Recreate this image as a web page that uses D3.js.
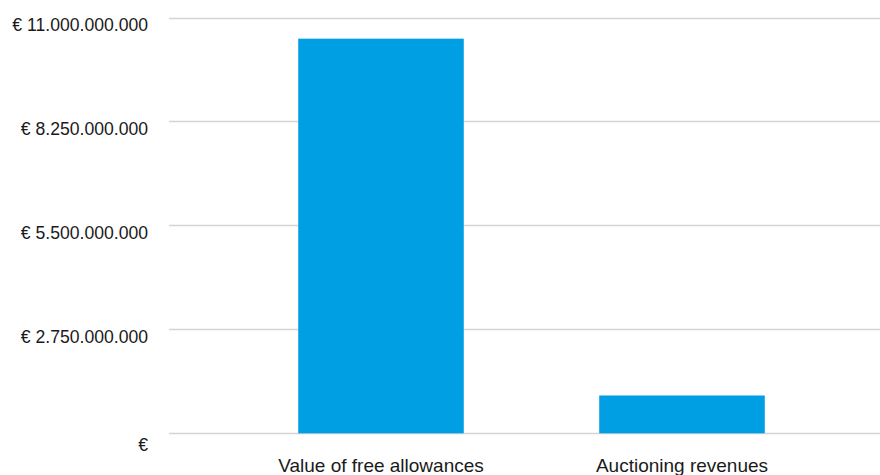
<!DOCTYPE html>
<html>
<head>
<meta charset="utf-8">
<script src="https://cdn.jsdelivr.net/npm/d3@7"></script>
<style>
  html, body { margin: 0; padding: 0; background: #ffffff; }
  svg { display: block; }
  text { font-family: "Liberation Sans", Arial, sans-serif; fill: #1a1a1a; }
</style>
</head>
<body>
<svg id="chart" width="880" height="475"></svg>
<script>
const categories = ["Value of free allowances", "Auctioning revenues"];
const values = [10440000000, 1000000000];
const tickValues = [0, 2750000000, 5500000000, 8250000000, 11000000000];
const tickLabels = ["€", "€ 2.750.000.000", "€ 5.500.000.000", "€ 8.250.000.000", "€ 11.000.000.000"];

const W = 880, H = 475;
const svg = d3.select("#chart");

const gridLeft = 169, gridRight = 880;
const y = d3.scaleLinear().domain([0, 11000000000]).range([433.3, 17.5]);
const x = d3.scaleBand().domain(categories).range([230.5, 832.5]).paddingInner(0.45).paddingOuter(0.225);

// gridlines
svg.append("g").selectAll("line").data(tickValues).join("line")
  .attr("x1", gridLeft).attr("x2", gridRight)
  .attr("y1", d => Math.round(y(d)) + 0.5).attr("y2", d => Math.round(y(d)) + 0.5)
  .attr("stroke", "#d4d4d4").attr("stroke-width", 1.3);

// tick labels
svg.append("g").selectAll("text").data(tickValues).join("text")
  .attr("x", 148)
  .attr("y", (d, i) => y(d) + (d === 0 ? 17.5 : 13.5))
  .attr("text-anchor", "end")
  .attr("font-size", "17.6px")
  .text((d, i) => tickLabels[i]);

// bars
svg.append("g").selectAll("rect").data(values).join("rect")
  .attr("x", (d, i) => x(categories[i]))
  .attr("width", x.bandwidth())
  .attr("y", d => y(d))
  .attr("height", d => y(0) - y(d))
  .attr("fill", "#009fe3");

// category labels
svg.append("g").selectAll("text").data(categories).join("text")
  .attr("x", d => x(d) + x.bandwidth() / 2)
  .attr("y", 472)
  .attr("text-anchor", "middle")
  .attr("font-size", "19px")
  .text(d => d);
</script>
</body>
</html>
